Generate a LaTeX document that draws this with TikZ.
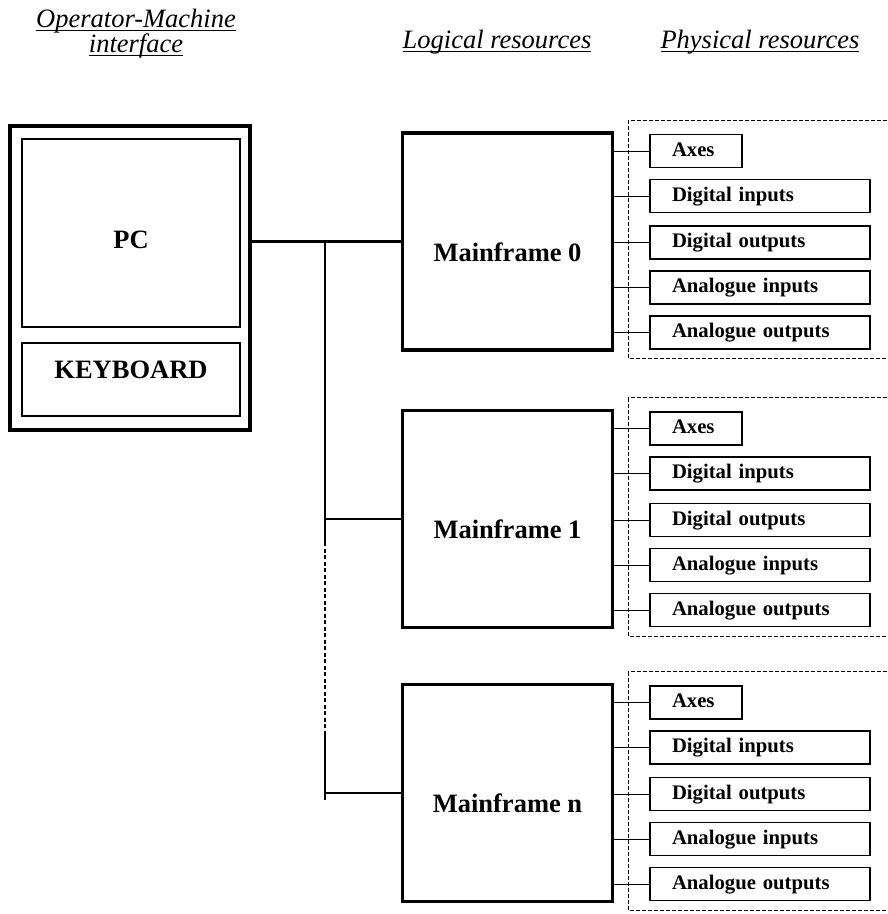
\documentclass[tikz,border=0pt]{standalone}
\usepackage{amsmath}
\usepackage{fontspec}
\setmainfont{Liberation Serif}
\tikzset{pcframe/.style={
		draw,
		line width=3.3pt,
		minimum width=240pt,
		minimum height=304pt,
		inner sep=0pt},
	inbox/.style={
		draw,
		line width=1.2pt,
		minimum width=218pt,
		inner sep=0pt},
	mainframe/.style={
		draw,
		line width=3.3pt,
		minimum width=210pt,
		minimum height=217pt,
		inner sep=0pt},
	iobox/.style={
		draw,
		line width=1.2pt,
		minimum height=33pt,
		inner xsep=22pt,
		inner ysep=0pt,
		text width=176pt,
		align=left,
		text height=14pt,
		text depth=4pt,
		font=\fontsize{20.7pt}{22pt}\selectfont\bfseries},
	axesbox/.style={iobox, text width=48pt},
	bigtext/.style={font=\fontsize{26.5pt}{28pt}\selectfont\bfseries},
	head/.style={
		inner sep=0pt,
		align=center,
		font=\fontsize{26.5pt}{25pt}\selectfont\itshape},
	bus/.style={line width=2.3pt},
	tap/.style={line width=1pt},
	group/.style={draw, line width=1pt, dash pattern=on 4pt off 2pt}
	}

\begin{document}
\begin{tikzpicture}[x=1pt,y=-1pt]
			\useasboundingbox (0,0) rectangle (888,914);
			\clip (0,0) rectangle (888,914);
			\node [head, anchor=base] (hom) at (136,52) {\underline{\smash[b]{Operator-Machine}}\\\underline{\smash[b]{interface}}};
			\node [head, anchor=base] (hlog) at (497,48) {\underline{\smash[b]{Logical resources}}};
			\node [head, anchor=base] (hphys) at (760,48) {\underline{\smash[b]{Physical resources}}};
			\node [pcframe] (pcframe) at (130,278) {};
			\node [inbox, minimum height=188pt, label={[bigtext, yshift=-7pt]center:PC}] (pc) at (131,233) {};
			\node [inbox, minimum height=73pt, label={[bigtext, yshift=9.5pt]center:KEYBOARD}] (kbd) at (131,379.5) {};
			\foreach \g/\y in {0/241.5, 1/519, n/793} {
				\node [mainframe, label={[bigtext, yshift=-10.5pt]center:Mainframe \g}] (mf\g) at (507.5,\y) {};
				\draw [group] (628,\y-121.5) rectangle (900,\y+117);
				\node [axesbox] (ax\g) at (696,\y-90.5) {Axes};
				\node [iobox] (di\g) at (760,\y-45.5) {Digital inputs};
				\node [iobox] (do\g) at (760,\y+1) {Digital outputs};
				\node [iobox] (ai\g) at (760,\y+46) {Analogue inputs};
				\node [iobox] (ao\g) at (760,\y+91) {Analogue outputs};
				\foreach \b in {ax,di,do,ai,ao}
					\draw [tap] (\b\g.west) -- (\b\g.west -| mf\g.east);
			}
			\coordinate (busx) at (325,0);
			\coordinate (j0) at (mf0.west -| busx);
			\coordinate (j1) at (mf1.west -| busx);
			\coordinate (jn) at (mfn.west -| busx);
			\coordinate (dtop) at (325,542);
			\coordinate (dbot) at (325,735);
			\coordinate (bend) at (325,800);
			\draw [bus] (pcframe.east |- mf0.west) -- (mf0.west);
			\draw [bus] (j0) -- (dtop);
			\draw [bus, dash pattern=on 4pt off 2.5pt] (dtop) -- (dbot);
			\draw [bus] (dbot) -- (bend);
			\draw [bus] (j1) -- (mf1.west);
			\draw [bus] (jn) -- (mfn.west);
		\end{tikzpicture}
\end{document}
